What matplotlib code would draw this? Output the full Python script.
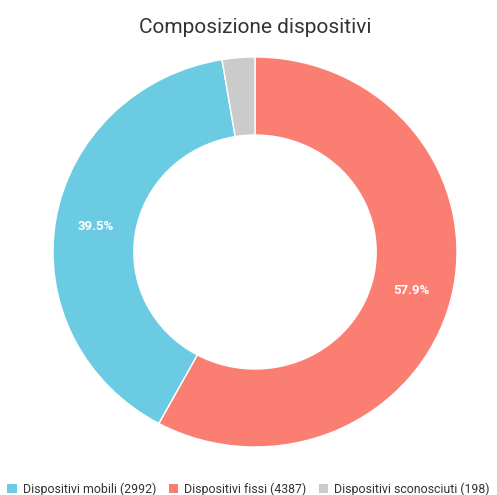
import matplotlib.pyplot as plt
from matplotlib.patches import Patch

plt.rcParams['font.family'] = ['Roboto', 'DejaVu Sans']

# Data
labels = ["Dispositivi mobili", "Dispositivi fissi", "Dispositivi sconosciuti"]
values = [2992, 4387, 198]
colors = ["#6BCBE3", "#FA7E72", "#CBCBCB"]

# Drawing order (clockwise from top): fissi, mobili, sconosciuti
order = [1, 0, 2]

fig = plt.figure(figsize=(4.97, 4.95), dpi=100)
# the reference ring is slightly wider than tall, so no equal aspect here
ax = fig.add_axes([53 / 497, 48 / 495, 404 / 497, 390 / 495])


def fmt(p):
    return "%.1f%%" % p if p > 5 else ""


wedges, texts, autotexts = ax.pie(
    [values[i] for i in order],
    colors=[colors[i] for i in order],
    startangle=90, counterclock=False, radius=1.0,
    autopct=fmt, pctdistance=0.8,
    wedgeprops=dict(width=0.4, edgecolor="white", linewidth=1),
)
for t in autotexts:
    t.set_color("white")
    t.set_fontweight("bold")
    t.set_fontsize(9.5)

ax.set_xlim(-1, 1)
ax.set_ylim(-1, 1)
ax.set_aspect("auto")

fig.text(0.513, 0.945, "Composizione dispositivi", ha="center", va="center",
         fontsize=15, color="#333333")

handles = [Patch(facecolor=c, edgecolor="none") for c in colors]
leg_labels = ["%s (%d)" % (l, v) for l, v in zip(labels, values)]
fig.legend(handles, leg_labels, loc="center", bbox_to_anchor=(0.5, 0.012),
           ncol=3, frameon=False, fontsize=8.9, handlelength=0.75, handleheight=0.75,
           handletextpad=0.5, columnspacing=1.0, labelcolor="#333333")

fig.savefig("out.png", dpi=100)
